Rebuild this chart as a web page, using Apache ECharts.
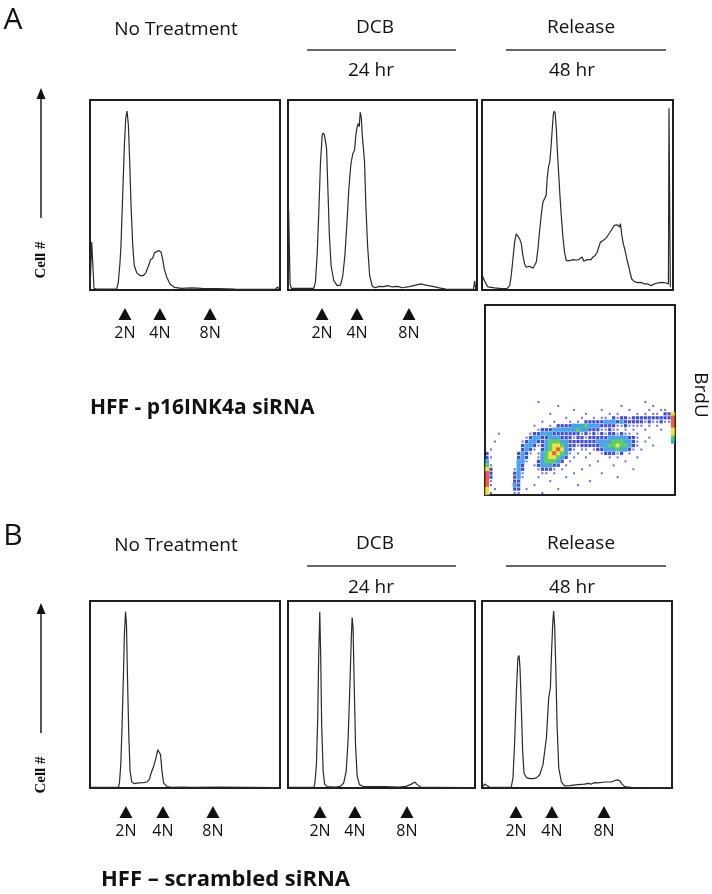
<!DOCTYPE html>
<html>
<head>
<meta charset="utf-8">
<script src="https://cdn.jsdelivr.net/npm/echarts@6/dist/echarts.min.js"></script>
<style>
html, body { margin: 0; padding: 0; background: #fff; }
#main { width: 712px; height: 894px; }
</style>
</head>
<body>
<div id="main"></div>
<script>
// DNA histograms, [channel %, count % of panel height]
var a1Hist = [[0,0],[0.4,0],[0.9,25.2],[1.2,26],[1.6,11],[2.1,0.9],[3.5,0.5],[14,0.5],[14.9,4],[15.8,14.6],[16.3,23.4],[17.2,49.8],[18.1,76.2],[18.8,90.3],[19.5,94.2],[20.2,86.8],[20.9,67.4],[21.6,44.5],[22.5,23.4],[23.3,12.9],[24.6,9],[26.3,7.6],[28.1,7.6],[29.5,9.3],[30.7,12.5],[31.9,16],[33,16.7],[33.9,19.5],[35.1,20.2],[36.3,20.8],[37.4,19.9],[38.2,16.4],[39.1,11.1],[40.4,6.7],[42.1,3.2],[44.4,1.4],[48.2,0.9],[53.5,1.1],[58.8,0.9],[67.5,0.7],[76.3,0.5],[85.1,0.4],[97.4,0.4],[98.8,1.6],[99.5,0.4]];
var a2Hist = [[0.2,0.5],[0.35,41.9],[0.7,41.9],[1.1,3.2],[1.8,0.9],[13.6,0.9],[14.5,4],[15.4,18.1],[16.3,41],[17.2,67.4],[18.1,81.5],[18.6,82.7],[19.3,81.5],[19.8,80.6],[20.4,74.5],[21.1,53.3],[21.9,28.7],[22.8,12.9],[24.2,4.9],[26,2.3],[27.8,2.6],[29,7.6],[30.1,18.1],[31.2,35.7],[32.2,53.3],[33.3,66.5],[34.3,71.8],[35.2,73.6],[35.9,81.5],[36.6,85.9],[37.2,87.7],[37.7,85.9],[38.2,93.5],[38.8,90.7],[39.3,81.5],[40,80.6],[40.5,67.4],[41.2,44.5],[42.1,23.4],[43.2,7.6],[44.6,1.9],[46.4,1.2],[48.1,1.9],[50.8,1.8],[52.6,2.3],[55.2,1.6],[57.9,1.9],[60.5,1.2],[64.1,1.8],[67.6,2.6],[70.3,3.2],[72.9,2.6],[76.5,1.9],[80,1.1],[83.5,0.5],[94.2,0.4],[98.1,0.5],[98.8,4.8],[99.3,0.5]];
var a3Hist = [[0.2,7.6],[1.7,4],[3.1,1.6],[6.6,1.1],[10.1,0.7],[13.2,0.9],[14.5,2.3],[15.3,7.6],[16.2,16.4],[17.1,25.2],[17.9,29.6],[18.8,30.5],[19.7,26.9],[20.6,24.3],[21.4,18.1],[22.3,13.7],[23.2,12],[24,12.9],[24.9,12.5],[25.8,12.9],[26.7,11.4],[27.5,12],[28.4,14.6],[29.3,21.7],[30.1,30.5],[31,39.3],[31.9,46.3],[32.8,48.1],[33.6,49.8],[34.1,58.6],[34.8,64.8],[35.5,67.4],[36.2,76.2],[36.8,85],[37.3,92.1],[37.8,94.2],[38.3,93],[38.9,85],[39.4,74.5],[40.1,62.1],[40.8,49.8],[41.5,39.3],[42.3,28.7],[43.2,19.9],[44.1,15.5],[44.9,14.6],[46.3,15.5],[47.7,16],[49.3,15.8],[50.7,16],[51.6,15.8],[52.4,17.4],[53.3,15.1],[54.2,14.6],[55.1,16],[55.9,15.1],[57.1,16],[58,17.3],[59.2,18.1],[60.3,19.9],[61.1,22.5],[62,25.2],[62.7,24.3],[63.4,26.1],[64.1,25.2],[65,27.3],[65.9,28.7],[66.7,29],[67.6,31.3],[68.5,32.2],[69.3,34],[70.2,33.1],[71.1,34.3],[72,33.1],[72.5,34.9],[73.2,28.7],[74,24.3],[74.9,20.8],[75.8,16.4],[76.7,12.9],[77.5,9.3],[78.4,5.8],[79.8,4.4],[81.5,3.9],[83.3,4],[85,3.2],[86.8,3.2],[88.5,2.3],[90.2,3.2],[92,3.7],[94.6,4],[96.3,3.7],[97.6,3.2],[97.9,95.6],[98.3,95.6],[98.6,1.4]];
var b1Hist = [[0.4,0.4],[15,0.4],[15.5,2.7],[16.2,12.5],[16.9,33.9],[17.6,60.7],[18.1,82.1],[18.7,94.3],[19.2,87.5],[19.7,60.7],[20.4,28.6],[21.1,8.9],[22,3.2],[23.4,2.3],[25.5,2.7],[28.2,2.9],[29.9,3.2],[31.2,4.5],[32.2,8],[33.5,11.6],[34.7,16.1],[35.7,20.5],[36.4,21.4],[37.1,17.9],[37.9,8.9],[38.7,2.7],[40.5,0.7],[43.1,0.4],[48.4,0.5],[53.7,0.4],[67.8,0.5],[99.1,0.2]];
var b2Hist = [[0.4,0.4],[13.8,0.4],[14.3,1.8],[15.2,12.5],[15.9,37.5],[16.4,69.6],[17,94.3],[17.5,69.6],[18,33.9],[18.8,8.9],[19.6,2.1],[20.9,0.7],[25.4,0.5],[28,0.9],[29.8,2.7],[31.1,8.9],[32.1,25],[33,51.8],[33.8,78.6],[34.3,91.1],[34.8,85.7],[35.4,55.4],[36.1,23.2],[37,6.3],[38.2,1.8],[40.5,0.7],[52.1,0.7],[59.3,0.5],[62.9,0.9],[65.5,1.8],[67.9,3.2],[69.1,1.8],[70.9,0.5],[78.9,0.4],[99.5,0.2]];
var b3Hist = [[0.4,0.7],[1.4,2.1],[2.3,1.3],[4,0.4],[15.4,0.4],[16.3,5.4],[17.2,25],[18.1,51.8],[18.9,69.6],[19.5,70.9],[20,64.3],[20.7,42.9],[21.4,19.6],[22.1,8],[23.3,5.7],[25.1,5],[26.8,5],[28.6,5.4],[30.4,7.1],[32.1,12.5],[33.9,26.8],[35.1,48.2],[36,53.6],[36.5,69.6],[37.2,87.5],[37.7,94.6],[38.2,87.5],[38.8,66.1],[39.5,33.9],[40.4,10.7],[41.8,3.2],[43.5,1.1],[46.1,1.3],[50.5,1.8],[54,2.1],[55.8,2.5],[57.5,2.1],[59.3,2.9],[61.1,2.7],[64.6,3.2],[68.1,3.2],[70.7,4.3],[72.5,3.9],[73.7,2.1],[75.1,0.7],[78.6,0.4],[99.3,0.2]];

// ploidy marker positions (channel %) per panel
var ploidyLabels = ["2N", "4N", "8N"];
var a1Marks = [18.4, 36.8, 63.2];
var a2Marks = [18.0, 36.5, 64.0];
var b1Marks = [18.9, 38.4, 64.7];
var b2Marks = [17.1, 35.8, 63.6];
var b3Marks = [17.9, 36.8, 64.2];

// BrdU vs DNA density, 48x48 grid, rows 24..47 (top->bottom), level 1..6
var brduFirstRow = 24;
var brduRows = [
  "........ .....1.. ........ ........ ........ 1.......",
  "........ ........ ..1..... ........ ..1..... ..1.....",
  "........ ........ ......1. .....1.. ....1... .1..11..",
  "........ ........ 1....... .1.....1 .1....1. 1.11.225",
  "........ ........ ....1... 1..1.11. 21221222 22222226",
  "........ ......1. .1...1.1 .2222233 32322222 12112116",
  "........ ....1... 1.222233 34333222 21121111 .1.1...6",
  "........ .....122 23333334 33222112 11.1.1.. 1...1..5",
  "...1.... ...12233 32222222 12121212 21211.1. .......5",
  "........ ..123322 33322212 21222223 3333221. .1.....4",
  "..1..... .1233223 44433222 22223333 4443321. 1......3",
  "........ .2332123 45543221 22222334 4544321. ..1.....",
  ".1...... .2321.23 4565321. 11.12233 343321.1 ........",
  "2....... 2321.134 565431.1 ..1..122 212.1... ........",
  "21...... 232..134 55432.1. .1.....1 .1....1. ........",
  "3....... 331..234 4432.1.. ....1... ...1.... ........",
  "41...... 32..1233 322.1... ..1..... 1....... ........",
  "52.....1 32...122 21.1.... 1....... .....1.. ........",
  "62.....2 31....11 .1....1. .....1.. ........ ........",
  "62.....2 31...1.. ....1... ........ .1...... ........",
  "61.....2 2....... 1....... ..1..... ........ ........",
  "61.....3 2...1... .......1 ........ ........ ........",
  "5.1....2 2.1..... ..1..... ........ ........ ........",
  "51.....1 1.....1. ........ ........ ........ ........"
];
var levelColors = ["", "rgba(20,20,230,0.8)", "#1420d0", "#1b8fe2", "#33c43a", "#e6dc1e", "#e2391c"];
var levelSizes = [0, 2, 3.2, 4.2, 4.3, 4.3, 4.3];

var brduData = [];
brduRows.forEach(function (row, i) {
  var s = row.replace(/ /g, "");
  for (var c = 0; c < s.length; c++) {
    if (s[c] !== ".") {
      brduData.push([c + 0.5, brduFirstRow + i + 0.5, parseInt(s[c])]);
    }
  }
});

var panels = [
  { left: 90, top: 100, width: 190, height: 190, data: a1Hist, marks: a1Marks },
  { left: 288, top: 100, width: 189, height: 190, data: a2Hist, marks: a2Marks },
  { left: 482, top: 100, width: 191, height: 190, data: a3Hist, marks: null },
  { left: 90, top: 601, width: 190, height: 187, data: b1Hist, marks: b1Marks },
  { left: 288, top: 601, width: 187, height: 187, data: b2Hist, marks: b2Marks },
  { left: 482, top: 601, width: 190, height: 187, data: b3Hist, marks: b3Marks }
];

var grids = [], xAxes = [], yAxes = [], series = [];
panels.forEach(function (p, i) {
  grids.push({ left: p.left, top: p.top, width: p.width, height: p.height,
    show: true, borderColor: "#1e1e1e", borderWidth: 2, backgroundColor: "#fff" });
  xAxes.push({ type: "value", gridIndex: i, min: 0, max: 100, show: false });
  yAxes.push({ type: "value", gridIndex: i, min: 0, max: 100, show: false });
  series.push({ type: "line", xAxisIndex: i, yAxisIndex: i, data: p.data,
    showSymbol: false, symbol: "none", silent: true,
    lineStyle: { color: "#2a2a2a", width: 1.2 } });
});
// BrdU scatter panel
grids.push({ left: 485, top: 305, width: 190, height: 190,
  show: true, borderColor: "#1e1e1e", borderWidth: 2 });
xAxes.push({ type: "value", gridIndex: 6, min: 0, max: 48, show: false });
yAxes.push({ type: "value", gridIndex: 6, min: 0, max: 48, inverse: true, show: false });
series.push({
  type: "scatter", xAxisIndex: 6, yAxisIndex: 6, data: brduData, symbol: "rect",
  silent: true,
  symbolSize: function (v) { return levelSizes[v[2]]; },
  itemStyle: { color: function (p) { return levelColors[p.data[2]]; } }
});

var chart = echarts.init(document.getElementById("main"));
chart.setOption({
  animation: false,
  grid: grids, xAxis: xAxes, yAxis: yAxes, series: series
});

var FONT = '"Open Sans", sans-serif';
function txt(x, y, s, size, extra) {
  var o = { type: "text", x: x, y: y, silent: true,
    style: { text: s, font: size + "px " + FONT, fill: "#111",
      textAlign: "center", textVerticalAlign: "middle" } };
  if (extra) { for (var k in extra) o[k] = extra[k]; }
  return o;
}
function hline(x1, x2, y) {
  return { type: "line", silent: true, shape: { x1: x1, y1: y, x2: x2, y2: y },
    style: { stroke: "#333", lineWidth: 1.6 } };
}
function tri(x, yTop, w, h) {
  return { type: "polygon", silent: true,
    shape: { points: [[x, yTop], [x - w / 2, yTop + h], [x + w / 2, yTop + h]] },
    style: { fill: "#111" } };
}

var g = [];
// headers
[[0, 30, 50, 71], [516, 546, 566, 588]].forEach(function (r, k) {
  g.push(txt(13, r[0] + 20, k === 0 ? "A" : "B", 30));
  g.push(txt(176, r[1], "No Treatment", 19));
  g.push(txt(375, r[1] - 2, "DCB", 19));
  g.push(txt(581, r[1] - 2, "Release", 19));
  g.push(hline(307, 456, r[2]));
  g.push(hline(506, 666, r[2]));
  g.push(txt(371, r[3], "24 hr", 19));
  g.push(txt(572, r[3], "48 hr", 19));
});
// Cell # arrows
[[88, 218, 260], [603, 733, 775]].forEach(function (a) {
  g.push({ type: "line", silent: true, shape: { x1: 41, y1: a[1], x2: 41, y2: a[0] + 8 },
    style: { stroke: "#111", lineWidth: 1.4 } });
  g.push(tri(41, a[0], 9, 11));
  g.push({ type: "text", x: 41, y: a[2], rotation: Math.PI / 2, silent: true,
    style: { text: "Cell #", font: "bold 15px 'Liberation Serif', serif", fill: "#111",
      textAlign: "center", textVerticalAlign: "middle" } });
});
// ploidy markers
panels.forEach(function (p, i) {
  if (!p.marks) return;
  var baseY = p.top + p.height;
  p.marks.forEach(function (m, j) {
    var px = chart.convertToPixel({ gridIndex: i }, [m, 0])[0];
    g.push(tri(px, baseY + 18, 13, 12));
    g.push(txt(px, baseY + 43, ploidyLabels[j], 16));
  });
});
g.push(txt(700, 395, "BrdU", 19, { rotation: -Math.PI / 2 }));
g.push({ type: "text", x: 90, y: 408, silent: true,
  style: { text: "HFF - p16INK4a siRNA", font: "bold 21px " + FONT, fill: "#111",
    textAlign: "left", textVerticalAlign: "middle" } });
g.push({ type: "text", x: 101, y: 880, silent: true,
  style: { text: "HFF \u2013 scrambled siRNA", font: "bold 22px " + FONT, fill: "#111",
    textAlign: "left", textVerticalAlign: "middle" } });

chart.setOption({ graphic: g });
</script>
</body>
</html>
